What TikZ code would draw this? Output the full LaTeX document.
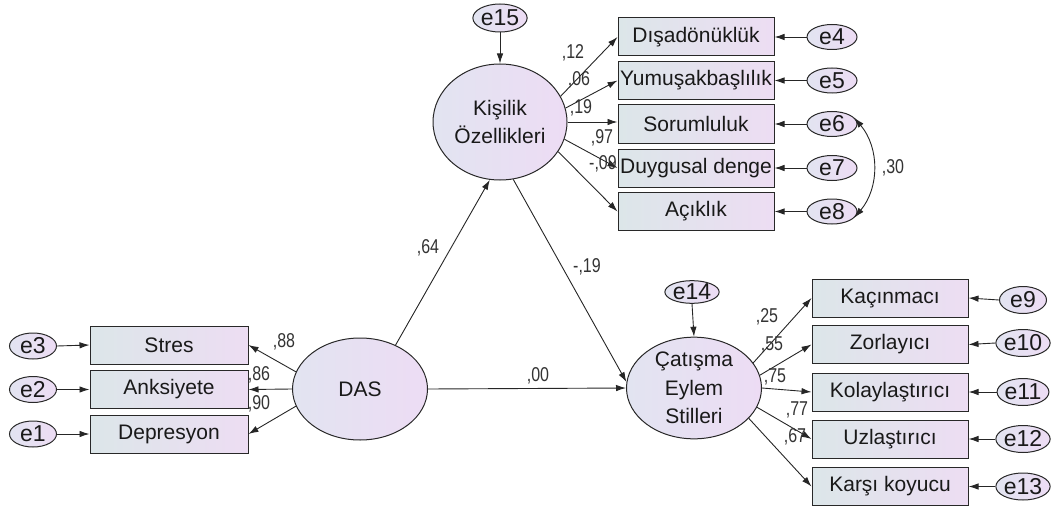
\documentclass[tikz,border=0pt]{standalone}
\usepackage{fontspec}
\setmainfont{Liberation Sans}
\newfontfamily\lblfont[FakeStretch=0.8]{Liberation Sans}
\usetikzlibrary{arrows.meta,shapes.geometric}
\definecolor{boxL}{RGB}{220,230,233}
\definecolor{boxR}{RGB}{237,221,243}
\definecolor{ellL}{RGB}{226,228,241}
\definecolor{ellR}{RGB}{237,220,244}
\definecolor{edgec}{RGB}{40,40,40}
\tikzset{
  obsbox/.style={draw=edgec, line width=1pt, left color=boxL, right color=boxR,
    minimum width=156pt, minimum height=38pt, inner sep=0pt,
    font=\fontsize{21}{24}\selectfont, text=black!90},
  latent/.style={ellipse, draw=edgec, line width=1pt, left color=ellL, right color=ellR,
    inner sep=0pt, align=center, font=\fontsize{21}{28.5}\selectfont, text=black!90},
  errv/.style={ellipse, draw=edgec, line width=1pt, left color=ellL, right color=ellR,
    inner sep=0pt, minimum width=48pt, minimum height=26pt,
    font=\fontsize{23}{26}\selectfont, text=black!90},
  arr/.style={-{Latex[length=10pt,width=6.5pt]}, line width=0.9pt, draw=black!85},
  dblarr/.style={{Latex[length=10pt,width=6.5pt]}-{Latex[length=10pt,width=6.5pt]}, line width=0.9pt, draw=black!85},
  coef/.style={font=\lblfont\fontsize{20}{22}\selectfont, text=black!80, inner sep=0pt}
}
\begin{document}
\begin{tikzpicture}[x=1pt,y=-1pt]
\useasboundingbox (0,0) rectangle (1054,508);

% ---- Kisilik block ----
\node[errv, minimum width=52pt, minimum height=28pt] (e15) at (500,18) {e15};
\node[latent, minimum width=134pt, minimum height=116pt] (K) at (500,122) {Kişilik\\Özellikleri};

\node[obsbox] (b1) at (696,37) {Dışadönüklük};
\node[obsbox] (b2) at (696,80.5) {Yumuşakbaşlılık};
\node[obsbox] (b3) at (696,124) {Sorumluluk};
\node[obsbox] (b4) at (696,168) {Duygusal denge};
\node[obsbox] (b5) at (696,211.5) {Açıklık};

\node[errv, minimum width=50pt, minimum height=25pt] (e4) at (832,37) {e4};
\node[errv, minimum width=50pt, minimum height=25pt] (e5) at (832,80.5) {e5};
\node[errv, minimum width=50pt, minimum height=25pt] (e6) at (832,124) {e6};
\node[errv, minimum width=50pt, minimum height=25pt] (e7) at (832,168) {e7};
\node[errv, minimum width=50pt, minimum height=25pt] (e8) at (832,211.5) {e8};

% ---- DAS block ----
\node[latent, minimum width=135pt, minimum height=102pt] (DAS) at (360,389) {DAS};
\node[obsbox, minimum width=158pt] (s1) at (169,345) {Stres};
\node[obsbox, minimum width=158pt] (s2) at (169,389.5) {Anksiyete};
\node[obsbox, minimum width=158pt] (s3) at (169,434) {Depresyon};
\node[errv, minimum width=47pt] (e3) at (33,346) {e3};
\node[errv, minimum width=47pt] (e2) at (33,389.5) {e2};
\node[errv, minimum width=47pt] (e1) at (33,434) {e1};

% ---- Catisma block ----
\node[errv, minimum width=49pt, minimum height=22pt] (e14) at (692,292) {e14};
\node[latent, minimum width=135pt, minimum height=100pt] (C) at (694,388) {Çatışma\\Eylem\\Stilleri};

\node[obsbox] (c1) at (890,298) {Kaçınmacı};
\node[obsbox] (c2) at (890,344.5) {Zorlayıcı};
\node[obsbox] (c3) at (890,392) {Kolaylaştırıcı};
\node[obsbox] (c4) at (890,439) {Uzlaştırıcı};
\node[obsbox] (c5) at (890,486.5) {Karşı koyucu};

\node[errv, minimum width=47pt, minimum height=27pt] (e9) at (1023,300) {e9};
\node[errv, minimum width=47pt, minimum height=27pt] (e10) at (1023,343) {e10};
\node[errv, minimum width=47pt, minimum height=27pt] (e11) at (1023,392) {e11};
\node[errv, minimum width=47pt, minimum height=27pt] (e12) at (1023,439) {e12};
\node[errv, minimum width=47pt, minimum height=27pt] (e13) at (1023,486.5) {e13};

% ---- connectors ----
\draw[arr] (e15.south) -- (K.north);
\draw[arr] (K.23) -- (b1.west);
\draw[arr] (K.12) -- (b2.west);
\draw[arr] (K.east) -- (K.east -| b3.west);
\draw[arr] (K.345) -- (b4.west);
\draw[arr] (K.333) -- (b5.west);
\draw[arr] (e4.west) -- (b1.east);
\draw[arr] (e5.west) -- (b2.east);
\draw[arr] (e6.west) -- (b3.east);
\draw[arr] (e7.west) -- (b4.east);
\draw[arr] (e8.west) -- (b5.east);
\draw[dblarr] (e6.15) .. controls +(25,30) and +(25,-30) .. (e8.-15);

\draw[arr] (DAS.165) -- (s1.east);
\draw[arr] (DAS.west) -- (s2.east);
\draw[arr] (DAS.195) -- (s3.east);
\draw[arr] (e3.east) -- (s1.west);
\draw[arr] (e2.east) -- (s2.west);
\draw[arr] (e1.east) -- (s3.west);

\draw[arr] (DAS.51) -- (K.260);
\draw[arr] (K.283) -- (C.175);
\draw[arr] (DAS.east) -- (C.west);

\draw[arr] (e14.south) -- (C.north);
\draw[arr] (C.23) -- (c1.west);
\draw[arr] (C.11) -- (c2.west);
\draw[arr] (C.east) -- (c3.west);
\draw[arr] (C.343) -- (c4.west);
\draw[arr] (C.331) -- (c5.west);
\draw[arr] (e9.west) -- (c1.east);
\draw[arr] (e10.west) -- (c2.east);
\draw[arr] (e11.west) -- (c3.east);
\draw[arr] (e12.west) -- (c4.east);
\draw[arr] (e13.west) -- (c5.east);

% ---- coefficients ----
\node[coef] (l1) at (573,53) {,12};
\node[coef] (l2) at (579,80) {,06};
\node[coef] (l3) at (581,108) {,19};
\node[coef] (l4) at (602,138) {,97};
\node[coef] (l5) at (603,164) {-,09};
\node[coef] (l6) at (893,168) {,30};
\node[coef] (l7) at (428,248) {,64};
\node[coef] (l8) at (587,267) {-,19};
\node[coef] (l9) at (538,376) {,00};
\node[coef] (l10) at (284,342) {,88};
\node[coef] (l11) at (259,375) {,86};
\node[coef] (l12) at (259,404) {,90};
\node[coef] (l13) at (767,317) {,25};
\node[coef] (l14) at (772,345) {,55};
\node[coef] (l15) at (775,377) {,75};
\node[coef] (l16) at (797,410) {,77};
\node[coef] (l17) at (795,437) {,67};
\end{tikzpicture}
\end{document}
